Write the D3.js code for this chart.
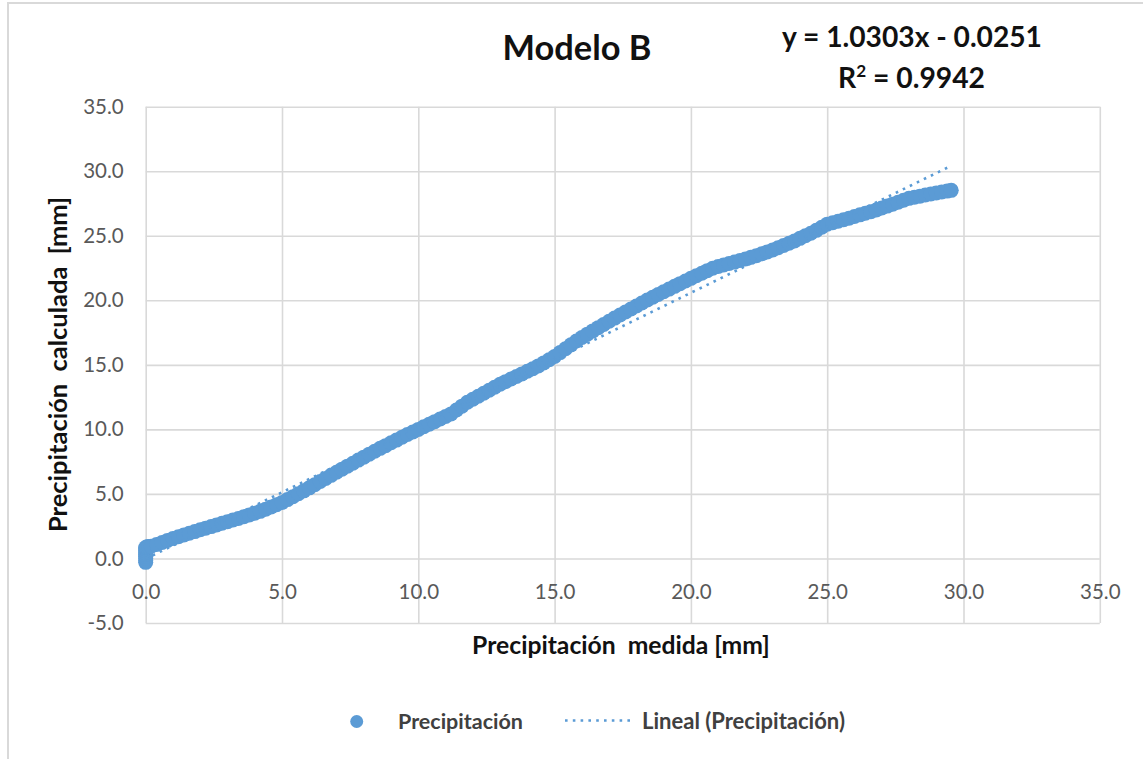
<!DOCTYPE html>
<html><head><meta charset="utf-8">
<script src="https://cdn.jsdelivr.net/npm/d3@7"></script>
<style>
body{margin:0;background:#fff}
svg{display:block}
text{font-family:Lato,"Open Sans",sans-serif}
</style>
</head><body>
<svg id="c" width="1143" height="759"></svg>
<script>
// ---------- data ----------
const xTicks = [0, 5, 10, 15, 20, 25, 30, 35];
const yTicks = [-5, 0, 5, 10, 15, 20, 25, 30, 35];

const measuredX = [
  0, 0, 0, 0, 0, 0, 0, 0, 0, 0.05, 0.1,
  0.2, 0.4, 0.6, 0.8, 1.0, 1.2, 1.4, 1.6, 1.8, 2.0,
  2.2, 2.4, 2.6, 2.8, 3.0, 3.2, 3.4, 3.6, 3.8, 4.0,
  4.2, 4.4, 4.6, 4.8, 5.0, 5.2, 5.4, 5.6, 5.8, 6.0,
  6.2, 6.4, 6.6, 6.8, 7.0, 7.2, 7.4, 7.6, 7.8, 8.0,
  8.2, 8.4, 8.6, 8.8, 9.0, 9.2, 9.4, 9.6, 9.8, 10.0,
  10.2, 10.4, 10.6, 10.8, 11.0, 11.2, 11.4, 11.6, 11.8, 12.0,
  12.2, 12.4, 12.6, 12.8, 13.0, 13.2, 13.4, 13.6, 13.8, 14.0,
  14.2, 14.4, 14.6, 14.8, 15.0, 15.2, 15.4, 15.6, 15.8, 16.0,
  16.2, 16.4, 16.6, 16.8, 17.0, 17.2, 17.4, 17.6, 17.8, 18.0,
  18.2, 18.4, 18.6, 18.8, 19.0, 19.2, 19.4, 19.6, 19.8, 20.0,
  20.2, 20.4, 20.6, 20.8, 21.0, 21.2, 21.4, 21.6, 21.8, 22.0,
  22.2, 22.4, 22.6, 22.8, 23.0, 23.2, 23.4, 23.6, 23.8, 24.0,
  24.2, 24.4, 24.6, 24.8, 25.0, 25.2, 25.4, 25.6, 25.8, 26.0,
  26.2, 26.4, 26.6, 26.8, 27.0, 27.2, 27.4, 27.6, 27.8, 28.0,
  28.2, 28.4, 28.6, 28.8, 29.0, 29.2, 29.4, 29.55
];
const calculatedY = [
  -0.3, -0.15, 0.0, 0.15, 0.3, 0.45, 0.6, 0.75, 0.85, 0.9, 0.92,
  0.95, 1.08, 1.24, 1.40, 1.55, 1.68, 1.82, 1.95, 2.08, 2.22,
  2.35, 2.47, 2.60, 2.73, 2.85, 2.98, 3.10, 3.24, 3.37, 3.51,
  3.65, 3.82, 3.99, 4.16, 4.33, 4.56, 4.78, 5.01, 5.24, 5.47,
  5.71, 5.96, 6.20, 6.44, 6.68, 6.92, 7.15, 7.38, 7.62, 7.85,
  8.08, 8.31, 8.53, 8.74, 8.96, 9.17, 9.39, 9.60, 9.80, 10.0,
  10.2, 10.4, 10.6, 10.8, 11.0, 11.2, 11.5, 11.8, 12.1, 12.33,
  12.57, 12.8, 13.03, 13.27, 13.5, 13.7, 13.9, 14.1, 14.3, 14.5,
  14.7, 14.92, 15.15, 15.4, 15.65, 15.95, 16.25, 16.55, 16.85, 17.12,
  17.38, 17.63, 17.88, 18.13, 18.38, 18.62, 18.86, 19.1, 19.33, 19.56,
  19.79, 20.02, 20.24, 20.45, 20.66, 20.87, 21.08, 21.29, 21.5, 21.7,
  21.9, 22.1, 22.3, 22.48, 22.62, 22.74, 22.85, 22.96, 23.08, 23.2,
  23.33, 23.46, 23.6, 23.75, 23.9, 24.07, 24.25, 24.42, 24.6, 24.8,
  25.0, 25.2, 25.42, 25.66, 25.9, 26.01, 26.13, 26.24, 26.36, 26.49,
  26.62, 26.75, 26.87, 27.0, 27.15, 27.3, 27.45, 27.6, 27.75, 27.9,
  27.99, 28.07, 28.16, 28.24, 28.31, 28.39, 28.46, 28.52
];
const trendSlope = 1.0303;
const trendIntercept = -0.0251;

const chartTitle = "Modelo B";
const equationLine = "y = 1.0303x - 0.0251";
const r2Value = "0.9942";
const xAxisTitle = "Precipitación  medida [mm]";
const yAxisTitle = "Precipitación  calculada  [mm]";
const seriesName = "Precipitación";
const trendName = "Lineal (Precipitación)";

// ---------- drawing ----------
const blue = "#5B9BD5";
const grid = "#d9d9d9";
const svg = d3.select("#c");

svg.append("rect").attr("x", 8).attr("y", 3).attr("width", 1300).attr("height", 900)
  .attr("fill", "#fff").attr("stroke", grid).attr("stroke-width", 2);

const x = d3.scaleLinear().domain([0, 35]).range([145.7, 1099.8]);
const y = d3.scaleLinear().domain([-5, 35]).range([623, 106.7]);

// gridlines
svg.append("g").attr("transform", `translate(0,${y(-5)})`)
  .call(d3.axisBottom(x).tickValues(xTicks).tickSize(-(y(-5) - y(35))).tickFormat(""))
  .call(g => g.select(".domain").remove())
  .call(g => g.selectAll("line").attr("stroke", grid).attr("stroke-width", 1.6));
svg.append("g").attr("transform", `translate(${x(0)},0)`)
  .call(d3.axisLeft(y).tickValues(yTicks).tickSize(-(x(35) - x(0))).tickFormat(""))
  .call(g => g.select(".domain").remove())
  .call(g => g.selectAll("line").attr("stroke", grid).attr("stroke-width", 1.6));

// tick labels
const fmt = d => d.toFixed(1);
svg.append("g").attr("transform", `translate(${x(0)},0)`)
  .call(d3.axisLeft(y).tickValues(yTicks).tickSize(0).tickPadding(22).tickFormat(fmt))
  .call(g => g.select(".domain").remove())
  .call(g => g.selectAll("text").attr("fill", "#595959").attr("font-size", 20.5)
    .attr("font-family", "Lato, sans-serif"));
svg.append("g").attr("transform", `translate(0,${y(0)})`)
  .call(d3.axisBottom(x).tickValues(xTicks).tickSize(0).tickFormat(fmt))
  .call(g => g.select(".domain").remove())
  .call(g => g.selectAll("text").attr("fill", "#595959").attr("font-size", 20.5)
    .attr("font-family", "Lato, sans-serif").attr("y", 33).attr("dy", "0.35em"));

// markers
const pts = measuredX.map((v, i) => ({x: v, y: calculatedY[i]}));
svg.append("g").selectAll("circle").data(pts).join("circle")
  .attr("cx", d => x(d.x)).attr("cy", d => y(d.y)).attr("r", 7.5).attr("fill", blue);

// trendline
const xMin = d3.min(measuredX), xMax = d3.max(measuredX);
svg.append("line")
  .attr("x1", x(xMin)).attr("y1", y(trendSlope * xMin + trendIntercept))
  .attr("x2", x(xMax)).attr("y2", y(trendSlope * xMax + trendIntercept))
  .attr("stroke", blue).attr("stroke-width", 2.6).attr("stroke-dasharray", "2.6,5.2");

// text helper: fit font size to a target width
function fit(sel, target) {
  const w = sel.node().getComputedTextLength();
  const fs = parseFloat(sel.attr("font-size"));
  sel.attr("font-size", fs * target / w);
  return sel;
}

// title
fit(svg.append("text").attr("x", 577).attr("y", 60).attr("text-anchor", "middle")
  .attr("font-weight", "bold").attr("font-size", 36).attr("fill", "#111").text(chartTitle), 149);

// equation
fit(svg.append("text").attr("x", 912).attr("y", 47).attr("text-anchor", "middle")
  .attr("font-weight", "bold").attr("font-size", 28).attr("fill", "#111").text(equationLine), 260);
const r2 = svg.append("text").attr("x", 911.5).attr("y", 88).attr("text-anchor", "middle")
  .attr("font-weight", "bold").attr("font-size", 28).attr("fill", "#111");
r2.append("tspan").text("R");
r2.append("tspan").attr("font-size", 17).attr("dy", -11).text("2");
r2.append("tspan").attr("dy", 11).text(" = " + r2Value);
{
  const w = r2.node().getComputedTextLength();
  const k = 147 / w;
  r2.attr("font-size", 28 * k);
  r2.selectAll("tspan").filter((d, i) => i === 1).attr("font-size", 17 * k).attr("dy", -11 * k);
  r2.selectAll("tspan").filter((d, i) => i === 2).attr("dy", 11 * k);
}

// axis titles
fit(svg.append("text").attr("x", 621).attr("y", 654).attr("text-anchor", "middle")
  .attr("font-weight", "bold").attr("font-size", 22).attr("fill", "#111")
  .style("white-space", "pre").text(xAxisTitle), 298);
fit(svg.append("text").attr("transform", "translate(67,364.5) rotate(-90)").attr("text-anchor", "middle")
  .attr("font-weight", "bold").attr("font-size", 22).attr("fill", "#111")
  .style("white-space", "pre").text(yAxisTitle), 335);

// legend
svg.append("circle").attr("cx", 356.7).attr("cy", 721.5).attr("r", 6.5).attr("fill", blue);
fit(svg.append("text").attr("x", 398).attr("y", 728.5).attr("font-weight", "bold")
  .attr("font-size", 20).attr("fill", "#404040").text(seriesName), 125);
svg.append("line").attr("x1", 565).attr("x2", 634).attr("y1", 720.5).attr("y2", 720.5)
  .attr("stroke", blue).attr("stroke-width", 2.6).attr("stroke-dasharray", "2.6,5.2");
fit(svg.append("text").attr("x", 642).attr("y", 728.5).attr("font-weight", "bold")
  .attr("font-size", 20).attr("fill", "#404040").text(trendName), 203);
</script>
</body></html>
